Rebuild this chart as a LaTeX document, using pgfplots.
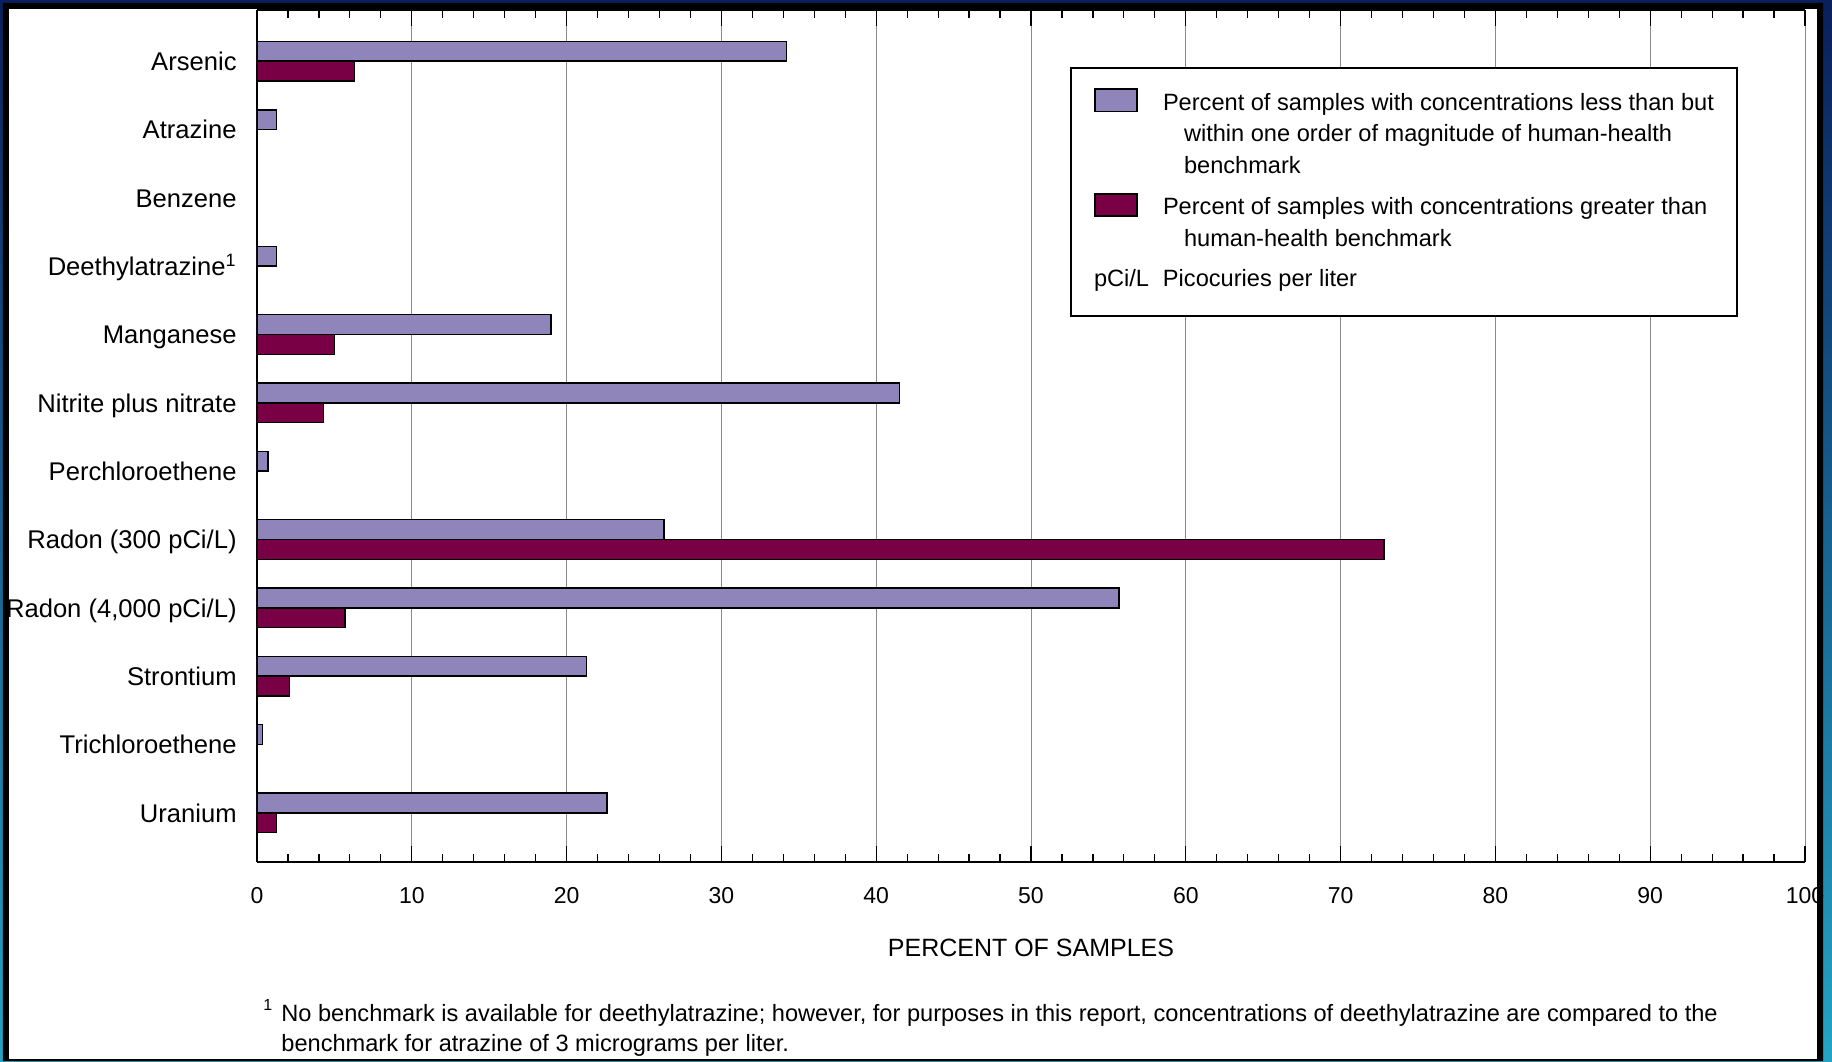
\documentclass[border=0pt]{standalone}
\usepackage{fontspec}
\setmainfont{Liberation Sans}
\usepackage{pgfplots}
\pgfplotsset{compat=1.18}

\definecolor{lightbar}{HTML}{8F85BB}
\definecolor{darkbar}{HTML}{7A0046}
\definecolor{framenavy}{HTML}{0A1F5C}
\definecolor{frameteal}{HTML}{24A4C4}
\definecolor{gridgray}{HTML}{8A8A8A}

\newcommand{\swatch}[1]{\tikz[baseline=0pt]\draw[fill=#1, draw=black, line width=0.75pt] (0pt,-0.6pt) rectangle (21pt,10.5pt);}

\begin{document}
\begin{tikzpicture}
% slide frame and white panel
\shade[top color=framenavy, bottom color=frameteal] (-128.5pt,-99.5pt) rectangle (787.5pt,431pt);
\fill[black] (-127pt,-99.5pt) rectangle (783pt,429.5pt);
\fill[white] (-124pt,-98.5pt) rectangle (780pt,426.5pt);

\begin{axis}[
    scale only axis,
    width=774pt, height=426pt,
    xbar, bar width=0.29,
    xmin=0, xmax=100,
    ymin=-0.75, ymax=11.72,
    y dir=reverse,
    xtick={0,10,...,100},
    minor x tick num=4,
    xmajorgrids,
    major grid style={gridgray, line width=0.5pt},
    major tick length=8pt, minor tick length=4pt,
    tick style={black, line width=0.6pt},
    axis y line*=left,
    axis line style={black, line width=1pt},
    ytick={0,...,11},
    yticklabels={Arsenic, Atrazine, Benzene, Deethylatrazine\textsuperscript{1}, Manganese,
        Nitrite plus nitrate, Perchloroethene, {Radon (300 pCi/L)}, {Radon (4,000 pCi/L)},
        Strontium, Trichloroethene, Uranium},
    ytick style={draw=none},
    yticklabel style={anchor=base east, inner sep=0pt, xshift=-2pt, yshift=-4.6pt,
        font=\fontsize{12.8}{15}\selectfont},
    xticklabel style={anchor=base, inner sep=0pt, yshift=-20.5pt,
        font=\fontsize{11.5}{13}\selectfont},
    /pgf/number format/assume math mode=true,
    xlabel={PERCENT OF SAMPLES},
    xlabel style={at={(axis description cs:0.5,0)}, anchor=base, inner sep=0pt,
        yshift=-47pt, font=\fontsize{12.5}{14}\selectfont},
    ]
    % percent of samples within one order of magnitude below the benchmark
    \addplot[fill=lightbar, draw=black, line width=0.75pt, bar shift=-0.145]
        coordinates {(34.2,0) (1.25,1) (1.25,3) (19.0,4) (41.5,5) (0.72,6)
                     (26.3,7) (55.7,8) (21.3,9) (0.34,10) (22.6,11)};
    % percent of samples above the benchmark
    \addplot[fill=darkbar, draw=black, line width=0.75pt, bar shift=0.145]
        coordinates {(6.3,0) (5.0,4) (4.3,5) (72.8,7) (5.7,8) (2.1,9) (1.25,11)};
\end{axis}

% legend
\node[draw=black, line width=1pt, fill=white, anchor=north west, inner xsep=11.5pt, inner ysep=10pt,
      font=\fontsize{11.8}{15.8}\selectfont] at (406.5pt,397.5pt) {%
  \begin{tabular}{@{}p{27.5pt}@{\hspace{7pt}}l@{}}
    \swatch{lightbar} & Percent of samples with concentrations less than but\\
                      & \hspace*{10.5pt}within one order of magnitude of human-health\\
                      & \hspace*{10.5pt}benchmark\\[5pt]
    \swatch{darkbar}  & Percent of samples with concentrations greater than\\
                      & \hspace*{10.5pt}human-health benchmark\\[4pt]
    pCi/L             & Picocuries per liter
  \end{tabular}};

% footnote
\node[anchor=base west, inner sep=0pt, font=\fontsize{8}{9}\selectfont] at (3pt,-74pt) {1};
\node[anchor=base west, inner sep=0pt, font=\fontsize{11.8}{15}\selectfont] at (12pt,-79.5pt)
    {No benchmark is available for deethylatrazine; however, for purposes in this report, concentrations of deethylatrazine are compared to the};
\node[anchor=base west, inner sep=0pt, font=\fontsize{11.8}{15}\selectfont] at (12pt,-94.5pt)
    {benchmark for atrazine of 3 micrograms per liter.};

% black frame drawn over the edge of the panel
\fill[black, even odd rule] (-127pt,-99.5pt) rectangle (783pt,429.5pt) (-124pt,-98.5pt) rectangle (780pt,426.5pt);
\pgfresetboundingbox
\useasboundingbox (-128.5pt,-99.5pt) rectangle (787.5pt,431pt);
\end{tikzpicture}
\end{document}
